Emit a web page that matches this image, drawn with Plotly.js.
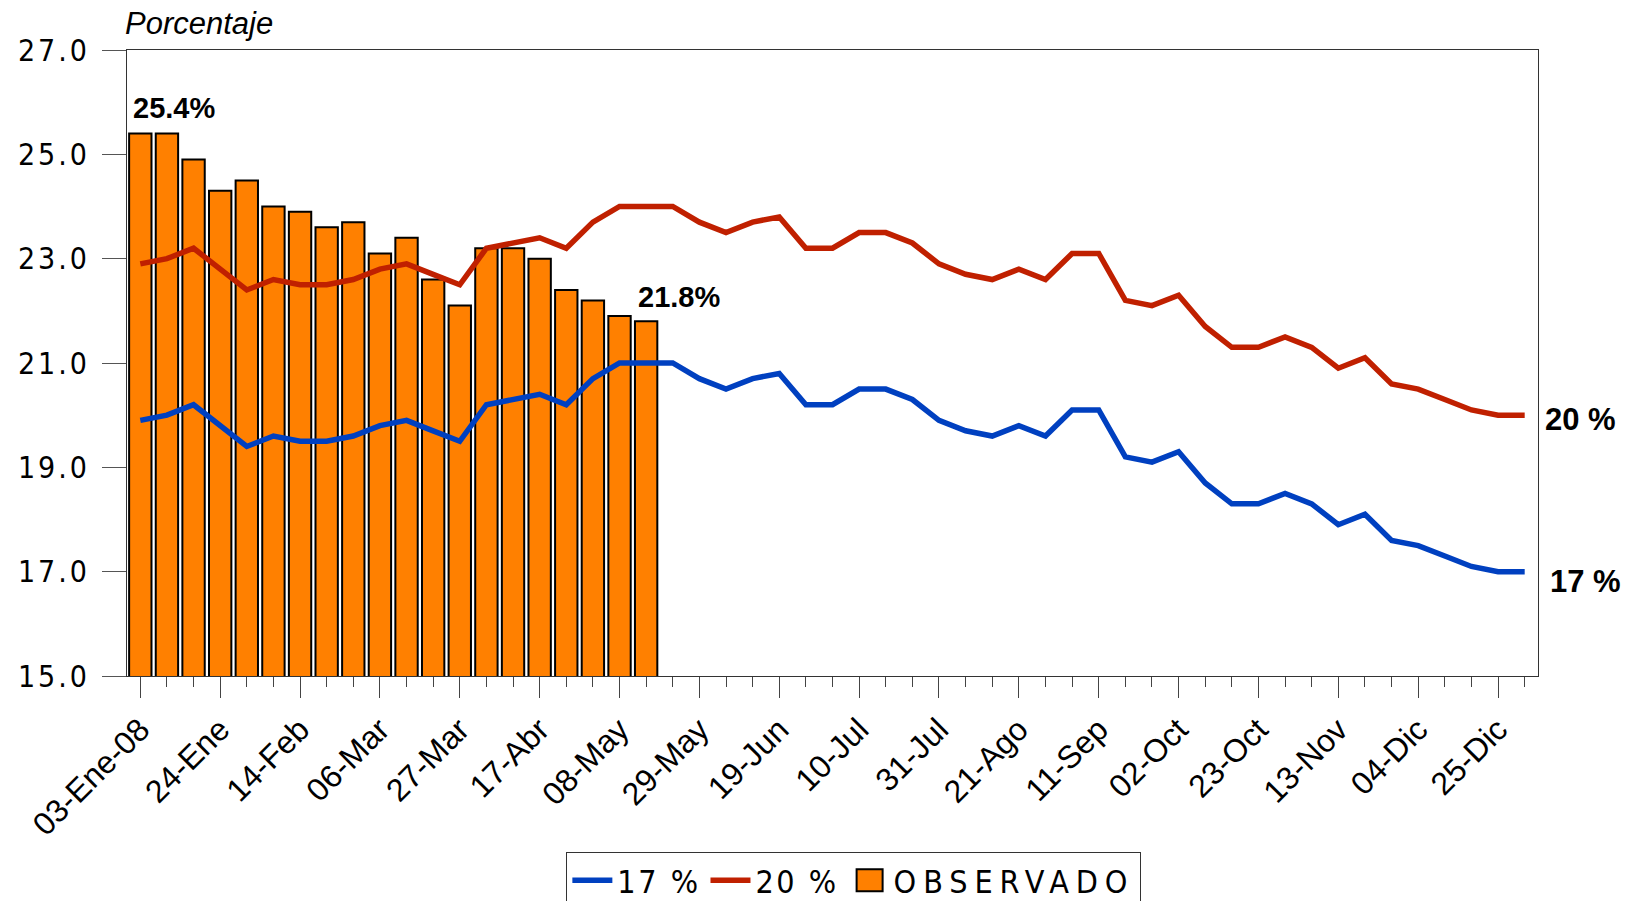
<!DOCTYPE html>
<html>
<head>
<meta charset="utf-8">
<script src="https://cdn.plot.ly/plotly-3.0.1.min.js"></script>
<style>
html,body{margin:0;padding:0;background:#fff;}
#chart{width:1629px;height:901px;}
text.legendtext{letter-spacing:2.5px;}
.ytick text{letter-spacing:3px;}
</style>
</head>
<body>
<div id="chart"></div>
<script>
// Weekly categories (2008)
const weeks = ["03-Ene-08","10-Ene","17-Ene","24-Ene","31-Ene","07-Feb","14-Feb","21-Feb","28-Feb",
  "06-Mar","13-Mar","20-Mar","27-Mar","03-Abr","10-Abr","17-Abr","24-Abr","01-May","08-May","15-May",
  "22-May","29-May","05-Jun","12-Jun","19-Jun","26-Jun","03-Jul","10-Jul","17-Jul","24-Jul","31-Jul",
  "07-Ago","14-Ago","21-Ago","28-Ago","04-Sep","11-Sep","18-Sep","25-Sep","02-Oct","09-Oct","16-Oct",
  "23-Oct","30-Oct","06-Nov","13-Nov","20-Nov","27-Nov","04-Dic","11-Dic","18-Dic","25-Dic","01-Ene-09"];
const labeledWeeks = ["03-Ene-08","24-Ene","14-Feb","06-Mar","27-Mar","17-Abr","08-May","29-May","19-Jun",
  "10-Jul","31-Jul","21-Ago","11-Sep","02-Oct","23-Oct","13-Nov","04-Dic","25-Dic"];

// OBSERVADO (bars)
const observado = [25.4,25.4,24.9,24.3,24.5,24.0,23.9,23.6,23.7,23.1,23.4,22.6,22.1,23.2,23.2,23.0,22.4,22.2,21.9,21.8];

// 17 % path
const serie17 = [19.9,20.0,20.2,19.8,19.4,19.6,19.5,19.5,19.6,19.8,19.9,19.7,19.5,20.2,20.3,20.4,20.2,20.7,21.0,21.0,
  21.0,20.7,20.5,20.7,20.8,20.2,20.2,20.5,20.5,20.3,19.9,19.7,19.6,19.8,19.6,20.1,20.1,19.2,19.1,19.3,
  18.7,18.3,18.3,18.5,18.3,17.9,18.1,17.6,17.5,17.3,17.1,17.0,17.0];

// 20 % path
const serie20 = [22.9,23.0,23.2,22.8,22.4,22.6,22.5,22.5,22.6,22.8,22.9,22.7,22.5,23.2,23.3,23.4,23.2,23.7,24.0,24.0,
  24.0,23.7,23.5,23.7,23.8,23.2,23.2,23.5,23.5,23.3,22.9,22.7,22.6,22.8,22.6,23.1,23.1,22.2,22.1,22.3,
  21.7,21.3,21.3,21.5,21.3,20.9,21.1,20.6,20.5,20.3,20.1,20.0,20.0];

// Y-axis ticks
const yTickVals = [15,17,19,21,23,25,27];
const yTickLabels = ["15.0","17.0","19.0","21.0","23.0","25.0","27.0"];

const idx = weeks.map((_, i) => i);
const labelIdx = labeledWeeks.map(w => weeks.indexOf(w));

const narrow = "DejaVu Sans Condensed, DejaVu Sans, sans-serif";
const arial = "Liberation Sans, Arial, sans-serif";

const traces = [
  {
    type: "bar", name: "OBSERVADO", x: idx.slice(0, observado.length), y: observado,
    width: 0.84, marker: {color: "#FF8000", line: {color: "#000", width: 2}},
    legendrank: 3, hoverinfo: "y"
  },
  {
    type: "scatter", mode: "lines", name: "17 %", x: idx, y: serie17,
    line: {color: "#0040C0", width: 5.5}, legendrank: 1
  },
  {
    type: "scatter", mode: "lines", name: "20 %", x: idx, y: serie20,
    line: {color: "#C02000", width: 5.5}, legendrank: 2
  }
];

const last = weeks.length - 1;
const layout = {
  width: 1629, height: 901,
  paper_bgcolor: "#fff", plot_bgcolor: "#fff",
  margin: {l: 127, r: 91, t: 50, b: 225, autoexpand: false},
  showlegend: true,
  bargap: 0,
  xaxis: {
    type: "linear", range: [-0.5, last + 0.5],
    tickmode: "array", tickvals: labelIdx, ticktext: labeledWeeks,
    tickangle: -45, tickfont: {family: arial, size: 32, color: "#000"},
    ticks: "outside", ticklen: 21, tickcolor: "#444", tickwidth: 1,
    minor: {dtick: 1, tick0: 0, ticks: "outside", ticklen: 10, tickcolor: "#444", tickwidth: 1, showgrid: false},
    showline: true, linecolor: "#333", linewidth: 1, mirror: true,
    showgrid: false, zeroline: false
  },
  yaxis: {
    range: [15, 27], tickmode: "array", tickvals: yTickVals, ticktext: yTickLabels,
    tickfont: {family: narrow, size: 30, color: "#000"},
    ticks: "outside", ticklen: 24, tickcolor: "#555", tickwidth: 1, ticklabelstandoff: 6,
    showline: true, linecolor: "#333", linewidth: 1, mirror: true,
    showgrid: false, zeroline: false
  },
  legend: {
    orientation: "h", x: 0.515, xanchor: "center", y: -0.281, yanchor: "top",
    bordercolor: "#333", borderwidth: 1, bgcolor: "#fff",
    font: {family: narrow, size: 32, color: "#000"},
    traceorder: "normal", itemwidth: 40, tracegroupgap: 0
  },
  annotations: [
    {xref: "paper", yref: "paper", x: 0, y: 1, xanchor: "left", yanchor: "bottom", yshift: 7, xshift: -4,
     text: "<i>Porcentaje</i>", showarrow: false, font: {family: arial, size: 31, color: "#000"}},
    {x: 0, y: observado[0], xanchor: "left", yanchor: "bottom", xshift: -9, yshift: 7,
     text: "<b>" + observado[0].toFixed(1) + "%</b>", showarrow: false, font: {family: arial, size: 29, color: "#000"}},
    {x: observado.length - 1, y: observado[observado.length - 1], xanchor: "left", yanchor: "bottom", xshift: -10, yshift: 6,
     text: "<b>" + observado[observado.length - 1].toFixed(1) + "%</b>", showarrow: false, font: {family: arial, size: 29, color: "#000"}},
    {x: last, y: serie20[last], xanchor: "left", yanchor: "middle", xshift: 18, yshift: -4,
     text: "<b>20 %</b>", showarrow: false, font: {family: arial, size: 31, color: "#000"}},
    {x: last, y: serie17[last], xanchor: "left", yanchor: "middle", xshift: 23, yshift: -10,
     text: "<b>17 %</b>", showarrow: false, font: {family: arial, size: 31, color: "#000"}}
  ]
};

Plotly.newPlot("chart", traces, layout, {displayModeBar: false, staticPlot: true}).then(gd => {
  const EXTRA_LS = 4.4;           // extra letter spacing for the OBSERVADO label (px per glyph)
  let grow = 0;
  gd.querySelectorAll("g.legend g.traces").forEach(g => {
    const t = g.querySelector("text.legendtext");
    if (t && t.textContent.indexOf("OBSERVADO") >= 0) {
      // larger swatch like the reference
      g.querySelectorAll(".legendpoints path").forEach(p => {
        p.setAttribute("d", "M14,11H-12V-11H14Z");
        p.style.strokeWidth = "2px";
        p.style.stroke = "#000";
      });
      const before = t.getBBox().width;
      t.style.letterSpacing = (2.5 + EXTRA_LS) + "px";
      grow = t.getBBox().width - before;
    }
  });
  const leg = gd.querySelector("g.legend");
  if (leg && grow > 0) {
    const bg = leg.querySelector("rect.bg");
    if (bg) bg.setAttribute("width", parseFloat(bg.getAttribute("width")) + grow);
    const sb = leg.querySelector("g.scrollbox");
    if (sb) sb.removeAttribute("clip-path");
    const m = /translate\(\s*([-\d.]+)[ ,]+([-\d.]+)\s*\)/.exec(leg.getAttribute("transform") || "");
    if (m) leg.setAttribute("transform", "translate(" + (parseFloat(m[1]) - grow / 2) + "," + m[2] + ")");
  }
});
</script>
</body>
</html>
